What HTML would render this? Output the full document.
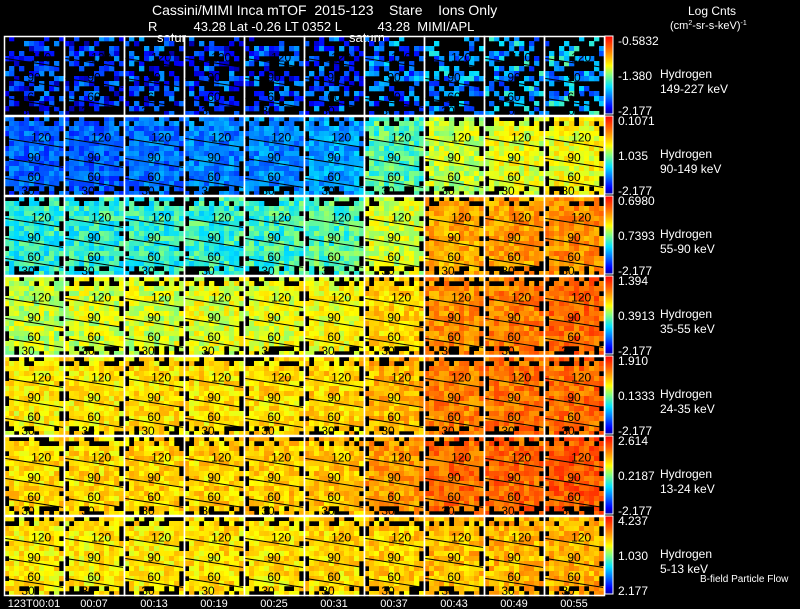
<!DOCTYPE html>
<html><head><meta charset="utf-8">
<style>
html,body{margin:0;padding:0;background:#000;}
svg{display:block;font-family:"Liberation Sans",sans-serif;}
</style></head>
<body>
<svg id="c" width="800" height="609" viewBox="0 0 800 609" xmlns="http://www.w3.org/2000/svg">
<rect width="800" height="609" fill="#000"/>
<defs>
<linearGradient id="jet" x1="0" y1="1" x2="0" y2="0">
<stop offset="0" stop-color="#0000a0"/><stop offset="0.08" stop-color="#0000ff"/>
<stop offset="0.35" stop-color="#00e0ff"/><stop offset="0.5" stop-color="#80ff80"/>
<stop offset="0.62" stop-color="#ffff00"/><stop offset="0.8" stop-color="#ff8000"/>
<stop offset="1" stop-color="#ff0000"/>
</linearGradient>
</defs>
<g fill="#fff" font-size="13">
<text x="152" y="15" font-size="14" xml:space="preserve">Cassini/MIMI Inca mTOF  2015-123    Stare    Ions Only</text>
<text x="148" y="31" font-size="13" xml:space="preserve">R          43.28 Lat -0.26 LT 0352 L          43.28  MIMI/APL</text>
<text x="157" y="42">satur</text>
<text x="349" y="42">saturn</text>
<text x="688" y="15" font-size="12">Log Cnts</text>
<text x="670" y="29" font-size="11">(cm<tspan font-size="7" dy="-4">2</tspan><tspan dy="4">-sr-s-keV)</tspan><tspan font-size="7" dy="-4">-1</tspan></text>
<text x="700" y="582" font-size="10">B-field Particle Flow</text>
</g>
<g id="grid"></g>
</svg>
<script>
const times = ["123T00:01","00:07","00:13","00:19","00:25","00:31","00:37","00:43","00:49","00:55"];
const species = ["Hydrogen","Hydrogen","Hydrogen","Hydrogen","Hydrogen","Hydrogen","Hydrogen"];
const energies = ["149-227 keV","90-149 keV","55-90 keV","35-55 keV","24-35 keV","13-24 keV","5-13 keV"];
const cbTop = ["-0.5832","0.1071","0.6980","1.394","1.910","2.614","4.237"];
const cbMid = ["-1.380","1.035","0.7393","0.3913","0.1333","0.2187","1.030"];
const cbBot = ["-2.177","-2.177","-2.177","-2.177","-2.177","-2.177","2.177"];
// mean normalized level (0..1) per panel, row by row
const row1 = [0.15,0.15,0.16,0.16,0.17,0.19,0.24,0.28,0.30,0.32];
const row2 = [0.22,0.22,0.24,0.26,0.27,0.30,0.46,0.56,0.60,0.62];
const row3 = [0.42,0.42,0.42,0.43,0.44,0.46,0.58,0.74,0.76,0.78];
const row4 = [0.56,0.58,0.58,0.60,0.60,0.62,0.68,0.78,0.80,0.84];
const row5 = [0.64,0.65,0.66,0.66,0.67,0.68,0.72,0.80,0.82,0.83];
const row6 = [0.67,0.67,0.68,0.68,0.69,0.70,0.76,0.83,0.84,0.86];
const row7 = [0.65,0.65,0.65,0.66,0.66,0.67,0.69,0.71,0.72,0.73];
const levels = [row1,row2,row3,row4,row5,row6,row7];

const NS="http://www.w3.org/2000/svg";
const g=document.getElementById('grid');
const X0=4, PW=60, Y0=36, PH=80, NC=12, NR=16;
const xPanel=i=>X0+i*PW, yPanel=r=>Y0+r*PH;
function jet(v){v=Math.max(0,Math.min(1,v));
 const st=[[0,0,0,160],[0.1,0,0,255],[0.38,0,224,255],[0.5,128,255,128],[0.62,255,255,0],[0.8,255,128,0],[1,255,0,0]];
 for(let k=1;k<st.length;k++){if(v<=st[k][0]){const a=st[k-1],b=st[k],t=(v-a[0])/(b[0]-a[0]);
  return `rgb(${Math.round(a[1]+t*(b[1]-a[1]))},${Math.round(a[2]+t*(b[2]-a[2]))},${Math.round(a[3]+t*(b[3]-a[3]))})`;}}
 return 'rgb(255,0,0)';}
function hash(a,b,c){let h=(a*374761393+b*668265263+c*2147483647)>>>0;h=((h^(h>>>13))*1274126177)>>>0;return ((h^(h>>>16))>>>0)/4294967296;}
function mk(tag,attrs){const e=document.createElementNS(NS,tag);for(const k in attrs)e.setAttribute(k,attrs[k]);return e;}
levels.forEach((row,r)=>{
 row.forEach((lv,i)=>{
  const px=xPanel(i), py=yPanel(r);
  const pg=mk('g',{});
  
  
  const cw=PW/NC, ch=PH/NR;
  for(let cy=0;cy<NR;cy++)for(let cx=0;cx<NC;cx++){
   const h=hash(r*10+i,cx,cy);
   const edge=(cy<2||cy>=NR-2||cx<1||cx>=NC-1);
   let blackP = r===0 ? 0.5 : 0.0;
   if(edge) blackP = r===0?0.75:0.4;
   if(h<blackP) continue;
   const v=lv+(hash(cx,cy,r*10+i+7)-0.5)*(r===0?0.3:0.16);
   const rc=mk('rect',{x:px+cx*cw,y:py+cy*ch,width:cw+0.3,height:ch+0.3,fill:jet(v)});
   pg.appendChild(rc);
  }
  [0.28,0.53,0.78].forEach(f=>{
   pg.appendChild(mk('line',{x1:px+1,y1:py+PH*f,x2:px+PW-1,y2:py+PH*f+9,stroke:'#000','stroke-width':1}));
  });
  [["120",0.62,0.32],["90",0.5,0.57],["60",0.5,0.81],["30",0.4,0.99]].forEach(l=>{
   const t=mk('text',{x:px+PW*l[1],y:py+PH*l[2],'font-size':12,'text-anchor':'middle',fill:'#000'});
   t.textContent=l[0];pg.appendChild(t);
  });
  pg.appendChild(mk('rect',{x:px+0.5,y:py+0.5,width:PW,height:PH-1,fill:'none',stroke:'#fff','stroke-width':1.5}));
  g.appendChild(pg);
 });
 const cy=yPanel(r);
 const cb=mk('rect',{x:605,y:cy,width:8,height:PH-2,fill:'url(#jet)',stroke:'#fff','stroke-width':1});
 
 
 g.appendChild(cb);
 [[cbTop[r],cy+9],[cbMid[r],cy+PH/2+4],[cbBot[r],cy+PH-1]].forEach((l,k)=>{
  const t=mk('text',{x:618,y:l[1],'font-size':12,fill:'#fff'});
  t.textContent=l[0];
  
  
  g.appendChild(t);
 });
 const s=mk('text',{x:660,y:cy+42,'font-size':12,fill:'#fff'});s.textContent=species[r];
 
 
 g.appendChild(s);
 const e=mk('text',{x:660,y:cy+57,'font-size':12,fill:'#fff'});e.textContent=energies[r];
 
 
 g.appendChild(e);
});
times.forEach((tm,i)=>{
 const t=mk('text',{x:xPanel(i)+PW/2,y:607,'font-size':11,'text-anchor':'middle',fill:'#fff'});
 t.textContent=tm;
 
 
 g.appendChild(t);
});
</script>
</body></html>
